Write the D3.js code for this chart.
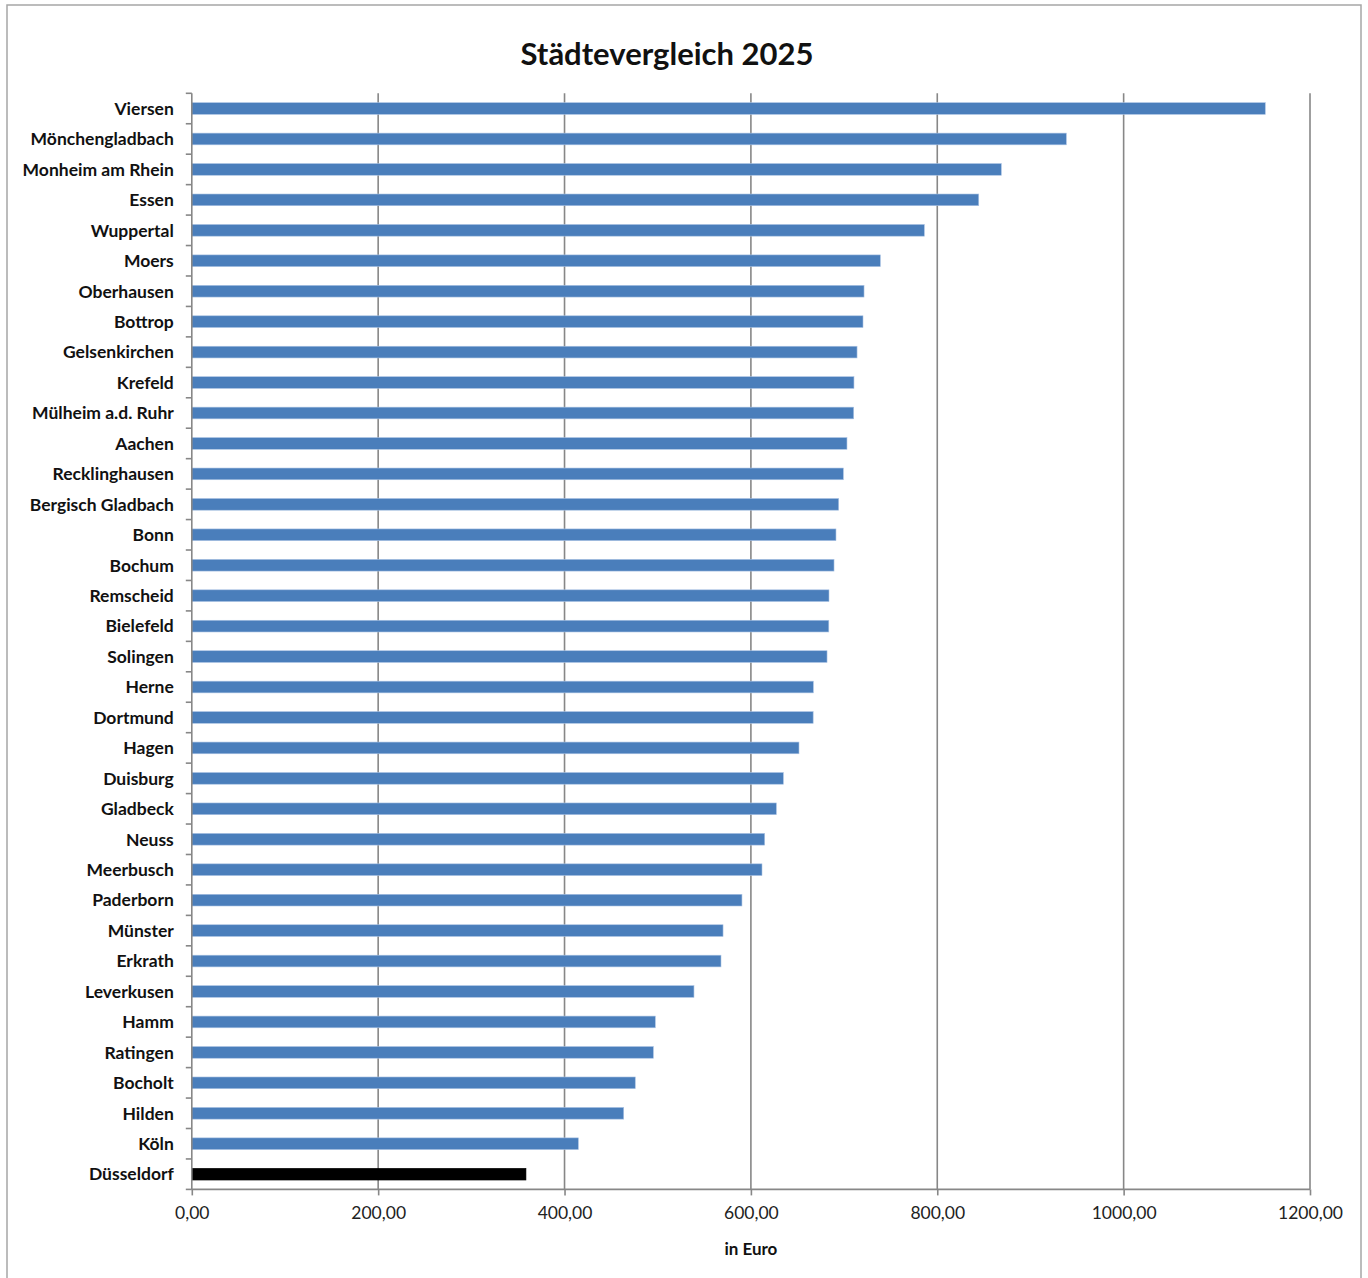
<!DOCTYPE html>
<html>
<head>
<meta charset="utf-8">
<script src="https://cdn.jsdelivr.net/npm/d3@7"></script>
<style>
  html, body { margin: 0; padding: 0; background: #ffffff; }
  svg { display: block; }
</style>
</head>
<body>
<svg id="chart" width="1368" height="1278"></svg>
<script>
const titleText = "Städtevergleich 2025";
const axisTitle = "in Euro";
const cities = [
  "Viersen", "Mönchengladbach", "Monheim am Rhein", "Essen", "Wuppertal", "Moers",
  "Oberhausen", "Bottrop", "Gelsenkirchen", "Krefeld", "Mülheim a.d. Ruhr", "Aachen",
  "Recklinghausen", "Bergisch Gladbach", "Bonn", "Bochum", "Remscheid", "Bielefeld",
  "Solingen", "Herne", "Dortmund", "Hagen", "Duisburg", "Gladbeck", "Neuss",
  "Meerbusch", "Paderborn", "Münster", "Erkrath", "Leverkusen", "Hamm", "Ratingen",
  "Bocholt", "Hilden", "Köln", "Düsseldorf"
];
const values = [
  1152.0, 938.5, 868.7, 844.5, 786.1, 738.9,
  721.4, 720.3, 713.9, 710.6, 710.3, 703.1,
  699.2, 694.2, 691.3, 689.2, 683.8, 683.6,
  681.7, 667.0, 666.8, 651.6, 634.8, 627.3, 614.8,
  611.9, 590.4, 570.1, 567.9, 538.9, 497.4, 495.3,
  475.9, 463.5, 414.8, 358.6
];
const highlightCity = "Düsseldorf";
const xTicks = [0, 200, 400, 600, 800, 1000, 1200];

const data = cities.map((c, i) => ({ city: c, value: values[i] }));

const svg = d3.select("#chart");
const m = { left: 191.8, right: 1310, top: 93.3, bottom: 1189.4 };

const font = "Lato, 'Open Sans', 'Liberation Sans', sans-serif";

// outer border
svg.append("rect")
  .attr("x", 7).attr("y", 5)
  .attr("width", 1354).attr("height", 1290)
  .attr("fill", "#ffffff")
  .attr("stroke", "#a6a6a6").attr("stroke-width", 1.5);

const x = d3.scaleLinear().domain([0, 1200]).range([m.left, m.right]);
const y = d3.scaleBand().domain(cities).range([m.top, m.bottom]).padding(0);
const gridColor = "#878787";

// vertical gridlines
svg.append("g").selectAll("line").data(xTicks.slice(1)).join("line")
  .attr("x1", d => x(d)).attr("x2", d => x(d))
  .attr("y1", m.top).attr("y2", m.bottom)
  .attr("stroke", gridColor).attr("stroke-width", 1.6);

// bars
const barH = 11.7;
svg.append("g").selectAll("rect").data(data).join("rect")
  .attr("x", x(0))
  .attr("y", d => y(d.city) + y.bandwidth() / 2 - barH / 2)
  .attr("width", d => x(d.value) - x(0))
  .attr("height", barH)
  .attr("fill", d => d.city === highlightCity ? "#000000" : "#4a7ebb")
  .attr("stroke", d => d.city === highlightCity ? "#000000" : "#a9c2e3")
  .attr("stroke-width", 0.6);

// x axis
const xAxis = d3.axisBottom(x).tickValues(xTicks)
  .tickFormat(d => d3.format(".2f")(d).replace(".", ","))
  .tickSize(6).tickPadding(11);
const gx = svg.append("g").attr("transform", `translate(0,${m.bottom})`).call(xAxis);
gx.select(".domain").attr("stroke", gridColor).attr("stroke-width", 1.6)
  .attr("d", `M${m.left},0H${m.right}`);
gx.selectAll(".tick line").attr("stroke", gridColor).attr("stroke-width", 1.6);
gx.selectAll(".tick text")
  .attr("fill", "#222222")
  .style("font-family", font)
  .style("font-size", "17.5px");

// y axis: labels centered on bands, ticks on band boundaries
const yAxis = d3.axisLeft(y).tickSize(0).tickPadding(18);
const gy = svg.append("g").attr("transform", `translate(${m.left},0)`).call(yAxis);
gy.select(".domain").attr("stroke", gridColor).attr("stroke-width", 1.6)
  .attr("d", `M0,${m.top}V${m.bottom}`);
gy.selectAll(".tick text")
  .attr("fill", "#111111")
  .attr("dy", "0.36em")
  .style("font-family", font)
  .style("font-weight", "bold")
  .style("font-size", "17.5px");

const boundaries = cities.map(c => y(c)).concat([m.bottom]);
svg.append("g").selectAll("line").data(boundaries).join("line")
  .attr("x1", m.left - 6).attr("x2", m.left)
  .attr("y1", d => d).attr("y2", d => d)
  .attr("stroke", gridColor).attr("stroke-width", 1.6);

// title
svg.append("text")
  .attr("x", 667).attr("y", 65)
  .attr("text-anchor", "middle")
  .style("font-family", font)
  .style("font-weight", "bold")
  .style("font-size", "31px")
  .attr("fill", "#111111")
  .text(titleText);

// axis title
svg.append("text")
  .attr("x", (m.left + m.right) / 2).attr("y", 1255)
  .attr("text-anchor", "middle")
  .style("font-family", font)
  .style("font-weight", "bold")
  .style("font-size", "17px")
  .attr("fill", "#111111")
  .text(axisTitle);
</script>
</body>
</html>
